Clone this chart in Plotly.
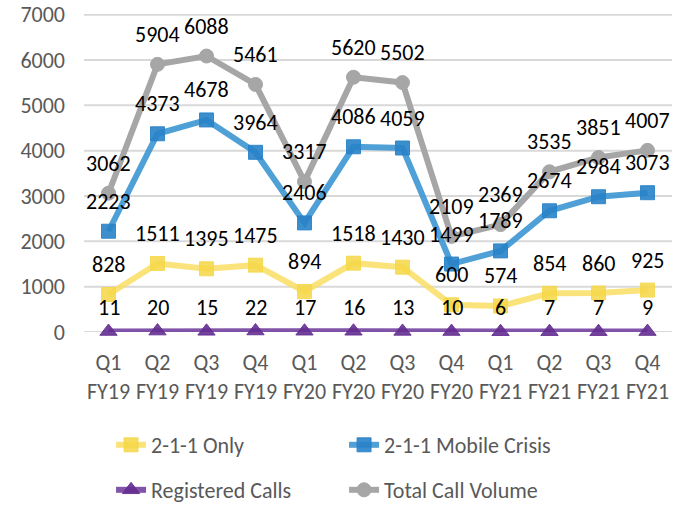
import plotly.graph_objects as go

quarters = ["Q1<br>FY19", "Q2<br>FY19", "Q3<br>FY19", "Q4<br>FY19",
            "Q1<br>FY20", "Q2<br>FY20", "Q3<br>FY20", "Q4<br>FY20",
            "Q1<br>FY21", "Q2<br>FY21", "Q3<br>FY21", "Q4<br>FY21"]
only_211 = [828, 1511, 1395, 1475, 894, 1518, 1430, 600, 574, 854, 860, 925]
mobile_crisis = [2223, 4373, 4678, 3964, 2406, 4086, 4059, 1499, 1789, 2674, 2984, 3073]
registered = [11, 20, 15, 22, 17, 16, 13, 10, 6, 7, 7, 9]
total = [3062, 5904, 6088, 5461, 3317, 5620, 5502, 2109, 2369, 3535, 3851, 4007]
y_ticks = [0, 1000, 2000, 3000, 4000, 5000, 6000, 7000]

FONT = "Carlito, Lato, sans-serif"
series = [
    ("2-1-1 Only", only_211, "rgba(250,222,100,0.85)", "rgba(245,215,70,0.85)", "square", 14, "legend", 30),
    ("2-1-1 Mobile Crisis", mobile_crisis, "rgba(60,150,210,0.9)", "rgba(40,130,200,0.9)", "square", 14, "legend", 30),
    ("Registered Calls", registered, "rgba(115,65,160,0.9)", "rgba(100,45,145,0.9)", "triangle-up", 15, "legend2", 24),
    ("Total Call Volume", total, "rgb(166,166,166)", "rgb(166,166,166)", "circle", 14, "legend2", 30),
]

fig = go.Figure()
for t in y_ticks:
    fig.add_shape(type="line", xref="paper", x0=0, x1=1, yref="y", y0=t, y1=t,
                  line=dict(color="#D9D9D9", width=2), layer="below")

for name, vals, lc, mc, sym, ms, leg, shift in series:
    fig.add_trace(go.Scatter(
        x=quarters, y=vals, name=name, mode="lines+markers",
        line=dict(color=lc, width=6),
        marker=dict(symbol=sym, size=ms, color=mc, line=dict(width=1, color=mc)),
        legend=leg, cliponaxis=False,
    ))
    for q, v in zip(quarters, vals):
        fig.add_annotation(x=q, y=v, text=str(v), showarrow=False, yshift=shift,
                           font=dict(family=FONT, size=22, color="black"))

W, H = 684, 506
legend_common = dict(orientation="h", xref="paper", x=0.046, xanchor="left",
                     yref="container", yanchor="middle",
                     entrywidth=188, entrywidthmode="pixels",
                     font=dict(size=22, color="#595959"))

fig.update_layout(
    width=W, height=H,
    margin=dict(l=84, r=12, t=14, b=174, autoexpand=False),
    paper_bgcolor="white", plot_bgcolor="white",
    font=dict(family=FONT, size=22, color="#595959"),
    xaxis=dict(type="category", range=[-0.5, 11.5], showgrid=False, showline=False,
               ticks="", ticklabelstandoff=15, tickfont=dict(size=22, color="#595959")),
    yaxis=dict(range=[0, 7015], tickmode="array", tickvals=y_ticks,
               showgrid=False, zeroline=False, showline=False, ticks="",
               ticklabelstandoff=18, ticklabeloverflow="allow",
               tickfont=dict(size=22, color="#595959")),
    legend=dict(legend_common, y=1 - 445 / H),
    legend2=dict(legend_common, y=1 - 490 / H),
    showlegend=True,
)

fig.write_html("out.html", config={"displayModeBar": False},
               post_script="document.body.style.margin='0';")
